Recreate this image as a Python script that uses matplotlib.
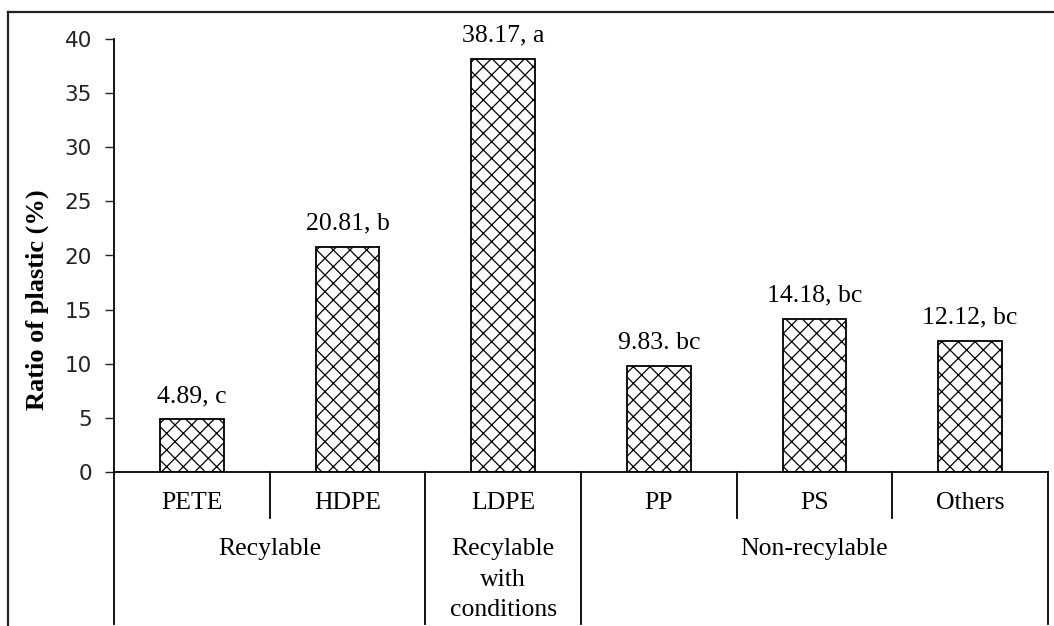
import matplotlib
matplotlib.use("Agg")
import matplotlib.pyplot as plt
from matplotlib.lines import Line2D
from matplotlib.transforms import blended_transform_factory

categories = ["PETE", "HDPE", "LDPE", "PP", "PS", "Others"]
values = [4.89, 20.81, 38.17, 9.83, 14.18, 12.12]
bar_labels = ["4.89, c", "20.81, b", "38.17, a", "9.83. bc", "14.18, bc", "12.12, bc"]
groups = ["Recylable", "Recylable\nwith\nconditions", "Non-recylable"]
group_sizes = [2, 1, 3]

SERIF = "Liberation Serif"
W, H = 1054, 626


def px(v):
    # pixels -> points at dpi 100
    return v * 0.72


def main():
    plt.rcParams["hatch.linewidth"] = 0.9
    plt.rcParams["hatch.color"] = "black"

    fig = plt.figure(figsize=(W / 100, H / 100), dpi=100)
    ax = fig.add_axes([114 / W, 1 - 472 / H, (1048 - 114) / W, (472 - 39) / H])

    x = list(range(len(categories)))
    ax.bar(x, values, width=0.41, color="white", edgecolor="black",
           linewidth=1.3, hatch="xx")

    for xi, v, lab in zip(x, values, bar_labels):
        ax.annotate(lab, xy=(xi, v), xytext=(0, px(17)), textcoords="offset points",
                    ha="center", va="baseline", fontsize=18.5, family=SERIF)

    ax.set_xlim(-0.5, len(categories) - 0.5)
    ax.set_ylim(0, 40)
    ax.set_yticks(range(0, 41, 5))
    ax.tick_params(axis="y", direction="out", length=px(9), width=1.0, pad=px(13),
                   labelsize=15.5, colors="#222222")
    ax.set_xticks([])
    for s in ["top", "right"]:
        ax.spines[s].set_visible(False)
    ax.spines["left"].set_linewidth(1.3)
    ax.spines["bottom"].set_linewidth(1.3)
    for lbl in ax.get_yticklabels():
        lbl.set_family("DejaVu Sans")

    ax.set_ylabel("Ratio of plastic (%)", family=SERIF, fontweight="bold",
                  fontsize=19)
    ax.yaxis.set_label_coords(-(114 - 49) / (1048 - 114), (472 - 300) / (472 - 39))

    trans = blended_transform_factory(ax.transData, ax.transAxes)
    ah = 472 - 39

    # category labels
    for xi, c in zip(x, categories):
        ax.annotate(c, xy=(xi, 0), xycoords=trans, xytext=(0, -px(31)),
                    textcoords="offset points", ha="center", va="center",
                    fontsize=18.5, family=SERIF)

    # dividers: short between categories, long between groups
    short_end = -46 / ah
    long_end = -152 / ah
    bounds = [-0.5]
    for n in group_sizes:
        bounds.append(bounds[-1] + n)
    group_edges = set(bounds)
    for b in [i - 0.5 for i in range(len(categories) + 1)]:
        y_end = long_end if b in group_edges else short_end
        ax.add_line(Line2D([b, b], [0, y_end], transform=trans, color="black",
                           linewidth=1.3, clip_on=False))

    # group labels
    for g, lo, hi in zip(groups, bounds[:-1], bounds[1:]):
        ax.annotate(g, xy=((lo + hi) / 2, 0), xycoords=trans, xytext=(0, -px(66)),
                    textcoords="offset points", ha="center", va="top",
                    fontsize=18.5, family=SERIF, linespacing=1.5)

    # outer chart frame
    fig.add_artist(Line2D([8 / W, 8 / W], [0, 1 - 12 / H], color="#222222",
                          linewidth=1.6))
    fig.add_artist(Line2D([8 / W, 1], [1 - 12 / H, 1 - 12 / H], color="#222222",
                          linewidth=1.6))

    fig.savefig("out.png", dpi=100)
    plt.close(fig)


if __name__ == "__main__":
    main()
